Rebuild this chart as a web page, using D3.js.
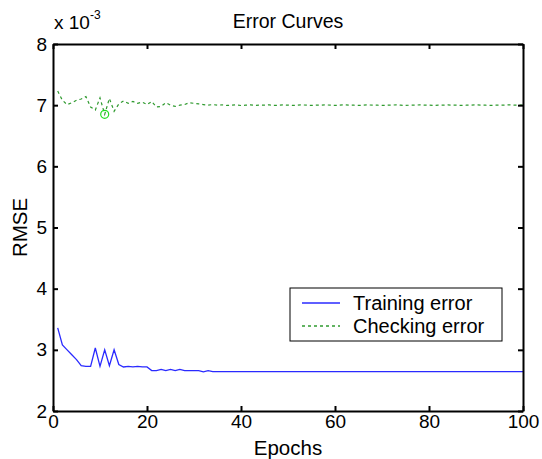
<!DOCTYPE html>
<html>
<head>
<meta charset="utf-8">
<script src="https://cdn.jsdelivr.net/npm/d3@7"></script>
<style>
  body { margin: 0; background: #fff; }
  svg { font-family: "Liberation Sans", Arial, sans-serif; }
</style>
</head>
<body>
<svg width="542" height="459"></svg>
<script>
// data (RMSE in units of 1e-3)
const epochs = d3.range(1, 101);
const trainErr = [
  3.36, 3.08, 3.00, 2.92, 2.84, 2.74, 2.73, 2.73, 3.03, 2.73,
  3.00, 2.74, 3.00, 2.76, 2.72, 2.73, 2.72, 2.73, 2.72, 2.72,
  2.66, 2.66, 2.68, 2.66, 2.68, 2.66, 2.68, 2.66, 2.66, 2.66,
  2.66, 2.64, 2.66, 2.645, 2.645, 2.645, 2.645, 2.645, 2.645, 2.645,
  2.645, 2.645, 2.645, 2.645, 2.645, 2.645, 2.645, 2.645, 2.645, 2.645,
  2.645, 2.645, 2.645, 2.645, 2.645, 2.645, 2.645, 2.645, 2.645, 2.645,
  2.645, 2.645, 2.645, 2.645, 2.645, 2.645, 2.645, 2.645, 2.645, 2.645,
  2.645, 2.645, 2.645, 2.645, 2.645, 2.645, 2.645, 2.645, 2.645, 2.645,
  2.645, 2.645, 2.645, 2.645, 2.645, 2.645, 2.645, 2.645, 2.645, 2.645,
  2.645, 2.645, 2.645, 2.645, 2.645, 2.645, 2.645, 2.645, 2.645, 2.645
];
const checkErr = [
  7.23, 7.08, 7.01, 7.04, 7.08, 7.10, 7.14, 6.97, 6.92, 7.12,
  6.85, 7.11, 6.90, 7.02, 7.07, 7.03, 7.06, 7.03, 7.05, 7.01,
  7.06, 6.97, 6.98, 7.04, 7.00, 6.98, 7.00, 7.01, 7.04, 7.03,
  7.02, 7.01, 7.00, 7.01, 7.00, 7.005, 6.995, 7.00, 7.005, 6.995,
  7.00, 7.005, 6.995, 7.00, 7.00, 7.005, 6.995, 7.00, 7.005, 7.00,
  6.995, 7.00, 7.005, 7.00, 6.995, 7.00, 7.00, 7.005, 7.00, 6.995,
  7.00, 7.005, 7.00, 7.00, 6.995, 7.00, 7.005, 7.00, 7.00, 6.995,
  7.00, 7.00, 7.005, 7.00, 6.995, 7.00, 7.00, 7.005, 7.00, 7.00,
  6.995, 7.00, 7.00, 7.005, 7.00, 7.00, 6.995, 7.00, 7.00, 7.005,
  7.00, 7.00, 6.995, 7.00, 7.00, 7.00, 7.005, 7.00, 7.00, 7.00
];
const minCheck = { epoch: 11, value: 6.85 };
const xTicks = [0, 20, 40, 60, 80, 100];
const yTicks = [2, 3, 4, 5, 6, 7, 8];
const seriesNames = ["Training error", "Checking error"];

const svg = d3.select("svg");
const margin = {top: 44, right: 19, bottom: 48, left: 53};
const width = 542 - margin.left - margin.right;
const height = 459 - margin.top - margin.bottom;

const x = d3.scaleLinear().domain([0, 100]).range([0, width]);
const y = d3.scaleLinear().domain([2, 8]).range([height, 0]);

svg.append("rect").attr("width", 542).attr("height", 459).attr("fill", "#fff");

const g = svg.append("g")
  .attr("transform", `translate(${margin.left},${margin.top})`);

// lines
const line = d3.line()
  .x((d, i) => x(epochs[i]))
  .y(d => y(d));

g.append("path")
  .datum(trainErr)
  .attr("fill", "none")
  .attr("stroke", "#2a2aff")
  .attr("stroke-width", 1.3)
  .attr("d", line);

g.append("path")
  .datum(checkErr)
  .attr("fill", "none")
  .attr("stroke", "#2f9a2f")
  .attr("stroke-width", 1.2)
  .attr("stroke-dasharray", "3,3")
  .attr("d", line);

// min checking error marker
g.append("circle")
  .attr("cx", x(minCheck.epoch))
  .attr("cy", y(minCheck.value))
  .attr("r", 4)
  .attr("fill", "none")
  .attr("stroke", "#22dd22")
  .attr("stroke-width", 1.2);

// axes, matlab style: ticks inward on all four sides
const tickLen = 5;
const fontSize = "19px";
const fmt = d3.format("d");

g.append("g")
  .attr("transform", `translate(0,${height})`)
  .call(d3.axisBottom(x).tickValues(xTicks).tickFormat(fmt).tickSizeInner(-tickLen).tickSizeOuter(0).tickPadding(4))
  .call(a => a.selectAll("text").style("font-size", fontSize).attr("fill", "#000"));

g.append("g")
  .call(d3.axisTop(x).tickValues(xTicks).tickSizeInner(-tickLen).tickSizeOuter(0).tickFormat(""));

g.append("g")
  .call(d3.axisLeft(y).tickValues(yTicks).tickFormat(fmt).tickSizeInner(-tickLen).tickSizeOuter(0).tickPadding(6))
  .call(a => a.selectAll("text").style("font-size", fontSize).attr("fill", "#000"));

g.append("g")
  .attr("transform", `translate(${width},0)`)
  .call(d3.axisRight(y).tickValues(yTicks).tickSizeInner(-tickLen).tickSizeOuter(0).tickFormat(""));

g.selectAll(".domain").attr("stroke", "#000").attr("stroke-width", 2);
g.selectAll(".tick line").attr("stroke", "#000").attr("stroke-width", 2);

// texts
svg.append("text")
  .attr("x", margin.left + width / 2)
  .attr("y", 28)
  .attr("text-anchor", "middle")
  .style("font-size", "19.5px")
  .text("Error Curves");

svg.append("text")
  .attr("x", 54)
  .attr("y", 29)
  .style("font-size", "19px")
  .text("x 10");

svg.append("text")
  .attr("x", 90)
  .attr("y", 19)
  .style("font-size", "12px")
  .text("-3");

svg.append("text")
  .attr("x", margin.left + width / 2)
  .attr("y", 455)
  .attr("text-anchor", "middle")
  .style("font-size", "20.5px")
  .text("Epochs");

svg.append("text")
  .attr("transform", `translate(27,${margin.top + height / 2}) rotate(-90)`)
  .attr("text-anchor", "middle")
  .style("font-size", "20.5px")
  .text("RMSE");

// legend
const legend = svg.append("g").attr("transform", "translate(290,288)");
legend.append("rect")
  .attr("width", 212).attr("height", 53)
  .attr("fill", "#fff").attr("stroke", "#000").attr("stroke-width", 1);

const legendStyle = [
  {stroke: "#2a2aff", dash: null},
  {stroke: "#2f9a2f", dash: "3,3"}
];
seriesNames.forEach((name, i) => {
  const ly = 15 + i * 23;
  legend.append("line")
    .attr("x1", 12).attr("x2", 50)
    .attr("y1", ly).attr("y2", ly)
    .attr("stroke", legendStyle[i].stroke)
    .attr("stroke-width", 1.3)
    .attr("stroke-dasharray", legendStyle[i].dash);
  legend.append("text")
    .attr("x", 63).attr("y", ly + 7)
    .style("font-size", "20px")
    .text(name);
});
</script>
</body>
</html>
